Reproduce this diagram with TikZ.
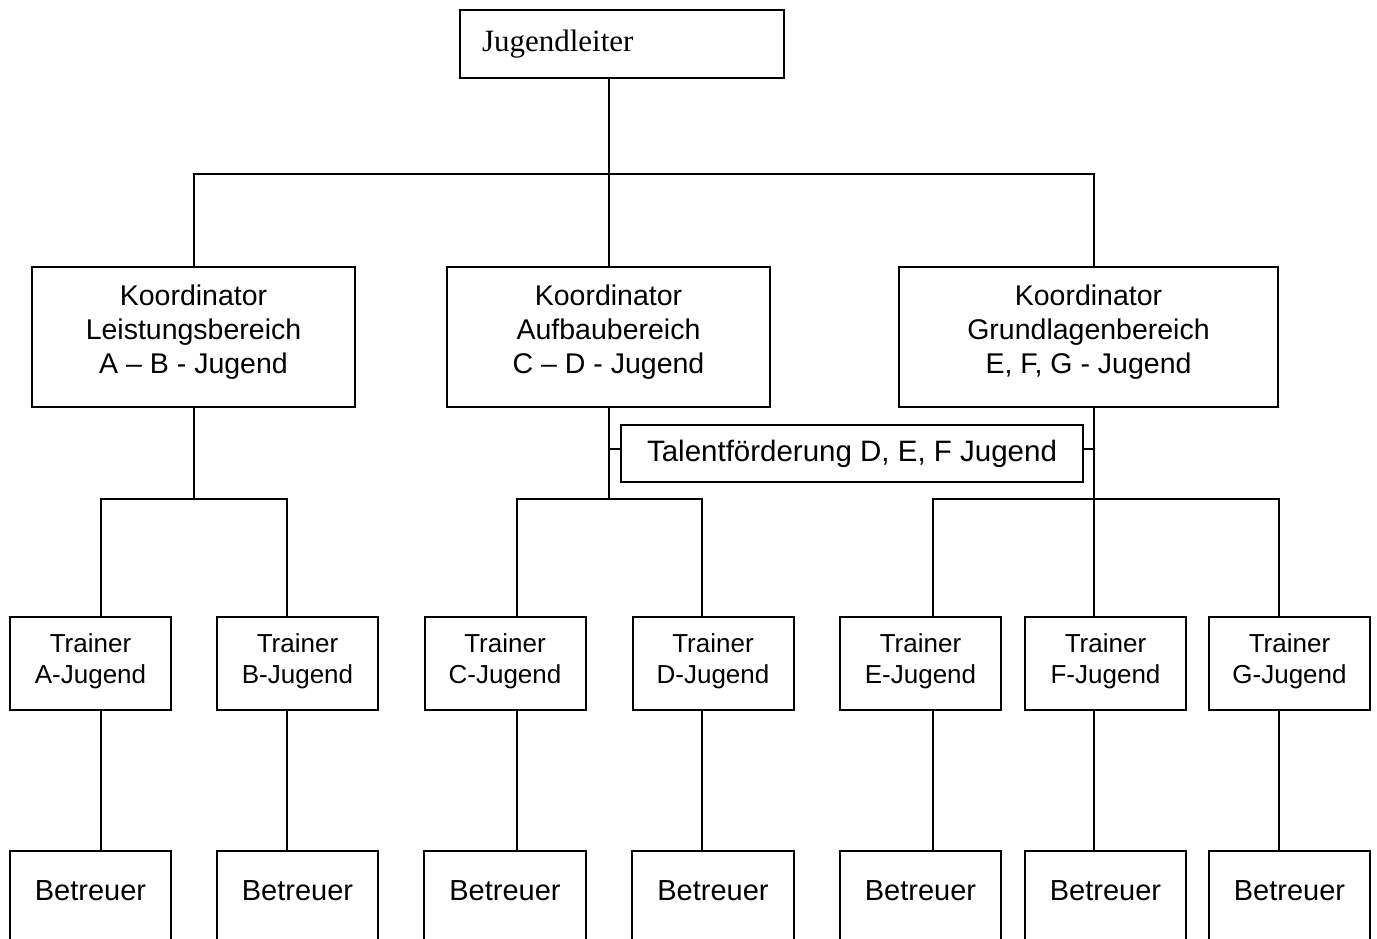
\documentclass[tikz,border=0pt]{standalone}
\usepackage{fontspec}
\setmainfont{Liberation Serif}
\setsansfont{Liberation Sans}
\begin{document}
\begin{tikzpicture}[x=1pt,y=-1pt,
  ln/.style={line width=2pt,line cap=rect},
  box/.style={draw,line width=2pt,inner sep=0pt,align=center},
  lead/.style={box,minimum width=324pt,minimum height=68pt,text width=280pt,inner xsep=22pt,align=left,font=\rmfamily\fontsize{31}{36}\selectfont},
  koord/.style={box,minimum height=140pt,text depth=15pt,font=\sffamily\fontsize{28.5}{34}\selectfont},
  trainer/.style={box,minimum width=161pt,minimum height=93pt,text depth=9.5pt,font=\sffamily\fontsize{26}{31.5}\selectfont},
  betr/.style={inner sep=0pt,minimum width=161pt,minimum height=80pt,font=\sffamily\fontsize{29}{34}\selectfont},
  tal/.style={box,minimum width=462pt,minimum height=57pt,font=\sffamily\fontsize{29.5}{34}\selectfont}]
\useasboundingbox (0,0) rectangle (1377,939);
\clip (0,0) rectangle (1377,939);

% nodes
\node[lead] (jl) at (622,44) {Jugendleiter};
\node[koord,minimum width=323pt] (k1) at (193.5,336.5) {Koordinator\\Leistungsbereich\\A – B - Jugend};
\node[koord,minimum width=323pt] (k2) at (608.5,336.5) {Koordinator\\Aufbaubereich\\C – D - Jugend};
\node[koord,minimum width=379pt] (k3) at (1088.5,336.5) {Koordinator\\Grundlagenbereich\\E, F, G - Jugend};
\node[tal] (tf) at (852,453.5) {Talentförderung D, E, F Jugend};

\node[trainer] (tA) at (90.5,663.5) {Trainer\\A-Jugend};
\node[trainer] (tB) at (297.5,663.5) {Trainer\\B-Jugend};
\node[trainer] (tC) at (505,663.5) {Trainer\\C-Jugend};
\node[trainer] (tD) at (713,663.5) {Trainer\\D-Jugend};
\node[trainer] (tE) at (920.5,663.5) {Trainer\\E-Jugend};
\node[trainer] (tF) at (1105.5,663.5) {Trainer\\F-Jugend};
\node[trainer] (tG) at (1289.5,663.5) {Trainer\\G-Jugend};

\foreach \n/\x in {A/90.5,B/297.5,C/505,D/713,E/920.5,F/1105.5,G/1289.5}{
  \node[betr] (b\n) at (\x,891) {Betreuer};
  \draw[ln] ([yshift=-40pt]b\n.south west) -- (b\n.north west) -- (b\n.north east) -- ([yshift=-40pt]b\n.south east);
}

% junction coordinates
\coordinate (j0) at (609,174);
\coordinate (x3) at (1094,174);
\coordinate (la) at (101,499);
\coordinate (lb) at (287,499);
\coordinate (lc) at (517,499);
\coordinate (ld) at (702,499);
\coordinate (le) at (933,499);
\coordinate (lf) at (1094,499);
\coordinate (lg) at (1279,499);
\coordinate (m2) at (609,499);

% top level
\draw[ln] (jl.south -| j0) -- (j0);
\draw[ln] (k1.north) |- (x3) -- (x3 |- k3.north);
\draw[ln] (j0) -- (j0 |- k2.north);

% coordinators to trainer buses
\draw[ln] (k1.south) -- (k1.south |- la);
\draw[ln] (la) -- (lb);
\draw[ln] (m2 |- k2.south) -- (m2);
\draw[ln] (lc) -- (ld);
\draw[ln] (lf |- k3.south) -- (lf);
\draw[ln] (le) -- (lg);

% Talentfoerderung ticks
\draw[ln] ([yshift=5pt]tf.west) -- ([yshift=5pt]tf.west -| m2);
\draw[ln] ([yshift=5pt]tf.east) -- ([yshift=5pt]tf.east -| lf);

% buses to trainers and trainers to Betreuer
\foreach \l/\n in {la/A,lb/B,lc/C,ld/D,le/E,lf/F,lg/G}{
  \draw[ln] (\l) -- (\l |- t\n.north);
  \draw[ln] (\l |- t\n.south) -- (\l |- b\n.north);
}
\end{tikzpicture}
\end{document}
